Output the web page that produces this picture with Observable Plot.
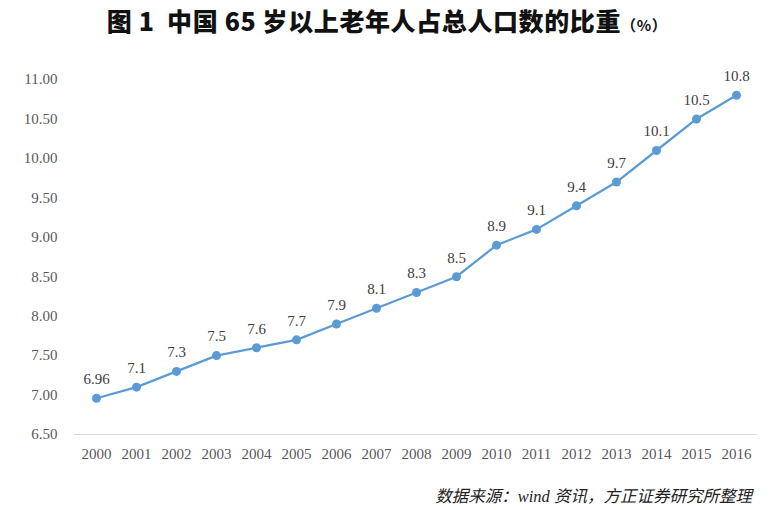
<!DOCTYPE html>
<html>
<head>
<meta charset="utf-8">
<script src="https://cdn.jsdelivr.net/npm/d3@7"></script>
<script src="https://cdn.jsdelivr.net/npm/@observablehq/plot@0.6"></script>
<style>
  html, body { margin: 0; padding: 0; background: #fff; }
  #wrap { width: 774px; height: 510px; position: relative; overflow: hidden; }
  #title { height: 50px; line-height: 41px; text-align: center; font-family: "Noto Sans CJK SC", sans-serif; font-weight: 900; font-size: 25px; color: #111; letter-spacing: 0.6px; }
  #title .pct { font-size: 15px; font-weight: 700; }
  #caption { position: absolute; top: 483px; right: 22px; font-family: "Liberation Serif", "Noto Sans CJK SC", serif; font-style: italic; font-size: 16.5px; color: #222; }
  #caption .cjk { font-family: "Noto Sans CJK SC", sans-serif; }
</style>
</head>
<body>
<div id="wrap">
  <div id="title">图 1&nbsp; 中国 65 岁以上老年人占总人口数的比重<span class="pct">（%）</span></div>
  <div id="chart"></div>
  <div id="caption"><span class="cjk">数据来源：</span>wind <span class="cjk">资讯，方正证券研究所整理</span></div>
</div>
<script>
const years = ["2000","2001","2002","2003","2004","2005","2006","2007","2008","2009","2010","2011","2012","2013","2014","2015","2016"];
const values = [6.96, 7.1, 7.3, 7.5, 7.6, 7.7, 7.9, 8.1, 8.3, 8.5, 8.9, 9.1, 9.4, 9.7, 10.1, 10.5, 10.8];
const valueLabels = ["6.96","7.1","7.3","7.5","7.6","7.7","7.9","8.1","8.3","8.5","8.9","9.1","9.4","9.7","10.1","10.5","10.8"];
const yTicks = [6.5, 7, 7.5, 8, 8.5, 9, 9.5, 10, 10.5, 11];

const data = years.map((y, i) => ({year: y, value: values[i], label: valueLabels[i]}));

const color = "#5B9BD5";
const chart = Plot.plot({
  width: 774,
  height: 425,
  marginTop: 29,
  marginBottom: 41,
  marginLeft: 74,
  marginRight: 17,
  style: { fontFamily: "'Liberation Serif', 'DejaVu Serif', serif", background: "#fff" },
  x: { type: "point", domain: years, padding: 0.5, label: null },
  y: { domain: [6.5, 11], label: null },
  marks: [
    Plot.ruleY([6.5], { stroke: "#D9D9D9", strokeWidth: 1.2 }),
    Plot.axisY({ ticks: yTicks, tickFormat: d => d.toFixed(2), tickSize: 0, tickPadding: 17, fontSize: 15, fill: "#595959", label: null }),
    Plot.axisX({ tickSize: 0, tickPadding: 14, fontSize: 15, fill: "#595959", label: null }),
    Plot.line(data, { x: "year", y: "value", stroke: color, strokeWidth: 2.25 }),
    Plot.dot(data, { x: "year", y: "value", fill: color, r: 4.5 }),
    Plot.text(data, { x: "year", y: "value", text: "label", dy: -19, fontSize: 15, fill: "#404040" })
  ]
});
document.getElementById("chart").appendChild(chart);
</script>
</body>
</html>
